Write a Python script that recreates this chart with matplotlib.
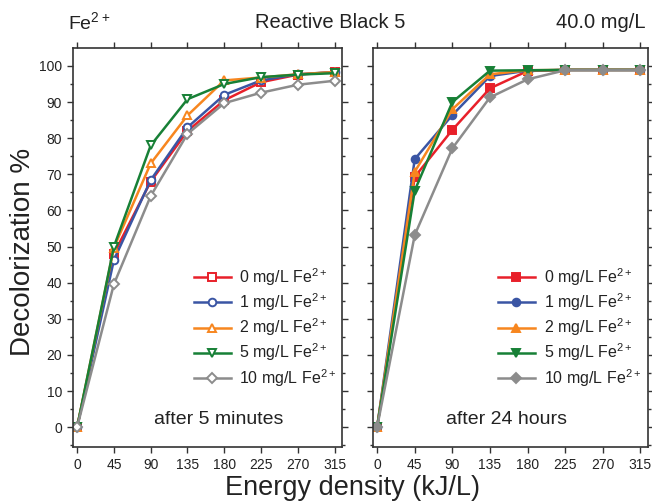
import numpy as np
import matplotlib
matplotlib.use("Agg")
import matplotlib.pyplot as plt

plt.rcParams["font.family"] = ["Liberation Sans", "DejaVu Sans"]
plt.rcParams["mathtext.default"] = "regular"

energy = [0, 45, 90, 135, 180, 225, 270, 315]
labels = ["0 mg/L Fe$^{2+}$", "1 mg/L Fe$^{2+}$", "2 mg/L Fe$^{2+}$",
          "5 mg/L Fe$^{2+}$", "10 mg/L Fe$^{2+}$"]
colors = ["#e8202a", "#3a55a4", "#f7861f", "#178036", "#8c8c8c"]
markers = ["s", "o", "^", "v", "D"]

# after 5 minutes
min5 = [
    [0, 48.0, 68.0, 82.0, 90.5, 95.5, 97.6, 98.3],
    [0, 46.3, 68.4, 83.0, 92.0, 96.0, 97.7, 98.3],
    [0, 49.7, 73.0, 86.3, 96.0, 96.8, 97.7, 98.3],
    [0, 50.0, 78.0, 90.8, 95.0, 96.9, 97.6, 98.0],
    [0, 39.6, 64.0, 81.2, 89.7, 92.6, 94.8, 95.9],
]
# after 24 hours
hr24 = [
    [0, 69.3, 82.3, 93.8, 98.6, 98.9, 98.9, 98.9],
    [0, 74.2, 86.4, 97.2, 98.7, 98.9, 98.9, 98.9],
    [0, 70.7, 88.0, 97.7, 98.8, 98.9, 98.9, 98.9],
    [0, 65.5, 90.0, 98.7, 98.8, 98.9, 98.9, 98.9],
    [0, 53.2, 77.2, 91.3, 96.3, 98.8, 98.8, 98.8],
]

fig = plt.figure(figsize=(6.52, 5.04), dpi=100)
ax1 = fig.add_axes([0.112, 0.113, 0.4126, 0.792])
ax2 = fig.add_axes([0.572, 0.113, 0.4218, 0.792])

txt = "#222222"
panels = [(ax1, min5, False, "after 5 minutes", 0.54),
          (ax2, hr24, True, "after 24 hours", 0.484)]
for ax, data, filled, note, nx in panels:
    for y, lab, c, m in zip(data, labels, colors, markers):
        ax.plot(energy, y, color=c, lw=1.8, marker=m,
                ms=5.5 if m != "D" else 4.8,
                mfc=c if filled else "white", mec=c, mew=1.4, label=lab)
    ax.set_xlim(-5, 324)
    ax.set_ylim(-5.5, 105)
    ax.set_xticks(energy)
    ax.set_yticks(np.arange(0, 101, 10))
    ax.set_yticks(np.arange(-5, 105, 5), minor=True)
    ax.tick_params(axis="both", which="both", direction="out", top=True,
                   right=True, labelsize=10, colors="#333333",
                   labelcolor=txt, length=4.5, width=1)
    ax.tick_params(axis="y", which="minor", length=2.5)
    for s in ax.spines.values():
        s.set_linewidth(1.2)
        s.set_color("#333333")
    ax.legend(loc="center", bbox_to_anchor=(0.715, 0.30), frameon=False,
              fontsize=11.5, handlelength=2.3, labelspacing=0.22,
              handletextpad=0.55, labelcolor=txt)
    ax.text(nx, 0.068, note, transform=ax.transAxes, ha="center",
            va="center", fontsize=14, color=txt)

ax2.tick_params(axis="y", labelleft=False)

fig.text(0.104, 0.956, "Fe$^{2+}$", fontsize=14, color=txt, va="center")
fig.text(0.506, 0.956, "Reactive Black 5", fontsize=14.5, color=txt,
         ha="center", va="center")
fig.text(0.99, 0.956, "40.0 mg/L", fontsize=14.5, color=txt, ha="right",
         va="center")
fig.text(0.54, 0.032, "Energy density (kJ/L)", fontsize=19.5, color=txt,
         ha="center", va="center")
fig.text(0.035, 0.5, "Decolorization %", fontsize=20, color=txt,
         ha="center", va="center", rotation=90)

fig.savefig("out.png", dpi=100)
